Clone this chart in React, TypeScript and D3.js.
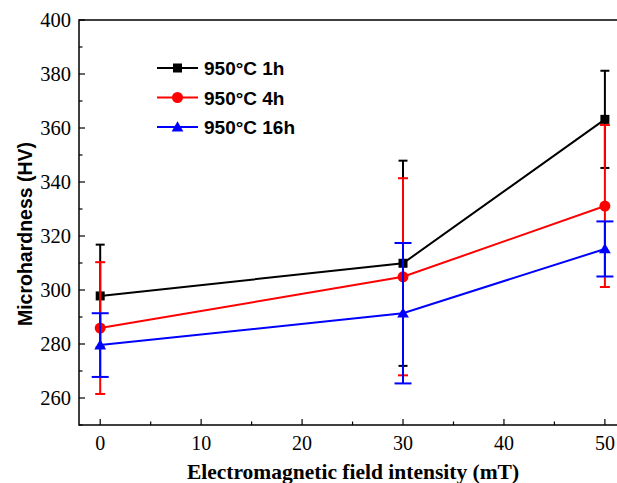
import React, { useEffect, useRef } from "react";
import * as d3 from "d3";

const fields = [0, 30, 50];
const seriesNames = ["950°C 1h", "950°C 4h", "950°C 16h"];
const colors = ["#000000", "#ff0000", "#0000ff"];
const hv1h = [297.8, 309.9, 363.2];
const err1h = [19, 38, 18];
const hv4h = [285.9, 304.9, 331.1];
const err4h = [24.4, 36.5, 30];
const hv16h = [279.6, 291.4, 315.2];
const err16h = [11.8, 26, 10.2];
const xTicks = [0, 10, 20, 30, 40, 50];
const yTicks = [260, 280, 300, 320, 340, 360, 380, 400];

function App() {
  const svgRef = useRef(null);
  const [width, height] = [617, 483];
  const margin = { top: 20, right: 1, bottom: 58, left: 79 };

  useEffect(() => {
    const svg = d3.select(svgRef.current);
    svg.selectAll("*").remove();

    const x = d3.scaleLinear().domain([-2.1, 51.1]).range([margin.left, width - margin.right]);
    const y = d3.scaleLinear().domain([250, 400]).range([height - margin.bottom, margin.top]);

    const serif = "Liberation Serif, Times New Roman, DejaVu Serif, serif";
    const sans = "Liberation Sans, Arial, sans-serif";

    // frame
    svg
      .append("rect")
      .attr("x", margin.left)
      .attr("y", margin.top)
      .attr("width", width - margin.right - margin.left + 5)
      .attr("height", height - margin.bottom - margin.top)
      .attr("fill", "none")
      .attr("stroke", "#000")
      .attr("stroke-width", 1.5);

    // x axis ticks (inward)
    const xMinor = d3.range(5, 51, 10);
    const gx = svg.append("g").attr("font-family", serif).attr("font-weight", "normal");
    xTicks.forEach((t) => {
      gx.append("line")
        .attr("x1", x(t)).attr("x2", x(t))
        .attr("y1", y(250)).attr("y2", y(250) - 6)
        .attr("stroke", "#000").attr("stroke-width", 1.2);
      gx.append("text")
        .attr("x", x(t)).attr("y", y(250) + 25)
        .attr("text-anchor", "middle")
        .style("font-family", serif).attr("font-size", 20)
        .text(String(t));
    });
    xMinor.forEach((t) => {
      gx.append("line")
        .attr("x1", x(t)).attr("x2", x(t))
        .attr("y1", y(250)).attr("y2", y(250) - 3.5)
        .attr("stroke", "#000").attr("stroke-width", 1.2);
    });

    // y axis ticks (inward)
    const yMinor = d3.range(250, 400, 20);
    const gy = svg.append("g").attr("font-family", serif).attr("font-weight", "normal");
    yTicks.forEach((t) => {
      gy.append("line")
        .attr("x1", margin.left).attr("x2", margin.left + 6)
        .attr("y1", y(t)).attr("y2", y(t))
        .attr("stroke", "#000").attr("stroke-width", 1.2);
      gy.append("text")
        .attr("x", margin.left - 8).attr("y", y(t) + 6.7)
        .attr("text-anchor", "end")
        .style("font-family", serif).attr("font-size", 20.5)
        .text(String(t));
    });
    yMinor.forEach((t) => {
      gy.append("line")
        .attr("x1", margin.left).attr("x2", margin.left + 3.5)
        .attr("y1", y(t)).attr("y2", y(t))
        .attr("stroke", "#000").attr("stroke-width", 1.2);
    });

    // axis titles
    svg.append("text")
      .attr("x", 353).attr("y", 479)
      .attr("text-anchor", "middle")
      .style("font-family", serif).attr("font-weight", "bold").attr("font-size", 21.5)
      .text("Electromagnetic field intensity (mT)");
    svg.append("text")
      .attr("transform", `translate(32,234) rotate(-90)`)
      .attr("text-anchor", "middle")
      .style("font-family", sans).attr("font-weight", "bold").attr("font-size", 19.5)
      .text("Microhardness (HV)");

    const series = [
      { vals: hv1h, errs: err1h, cap: 4.5, marker: "square" },
      { vals: hv4h, errs: err4h, cap: 5, marker: "circle" },
      { vals: hv16h, errs: err16h, cap: 8.5, marker: "triangle" },
    ];

    const line = d3.line<number>().x((d, i) => x(fields[i])).y((d) => y(d));

    const drawMarker = (g, kind, cx, cy, color) => {
      if (kind === "square") {
        g.append("rect").attr("x", cx - 4.5).attr("y", cy - 4.5).attr("width", 9).attr("height", 9).attr("fill", color);
      } else if (kind === "circle") {
        g.append("circle").attr("cx", cx).attr("cy", cy).attr("r", 5.5).attr("fill", color);
      } else {
        g.append("path")
          .attr("d", d3.symbol(d3.symbolTriangle, 60)())
          .attr("transform", `translate(${cx},${cy + 1})`)
          .attr("fill", color);
      }
    };

    // error bars, line and markers for each series in turn
    series.forEach((s, k) => {
      const g = svg.append("g");
      const c = colors[k];
      s.vals.forEach((v, i) => {
        const cx = x(fields[i]);
        const hi = y(v + s.errs[i]);
        const lo = y(v - s.errs[i]);
        g.append("line").attr("x1", cx).attr("x2", cx).attr("y1", hi).attr("y2", lo).attr("stroke", c).attr("stroke-width", 2);
        [hi, lo].forEach((yy) => {
          g.append("line").attr("x1", cx - s.cap).attr("x2", cx + s.cap).attr("y1", yy).attr("y2", yy).attr("stroke", c).attr("stroke-width", 2);
        });
      });
      g.append("path").attr("d", line(s.vals)).attr("fill", "none").attr("stroke", c).attr("stroke-width", 2);
      s.vals.forEach((v, i) => drawMarker(g, s.marker, x(fields[i]), y(v), c));
    });

    // legend
    const lg = svg.append("g");
    seriesNames.forEach((name, k) => {
      const ly = 68 + k * 29.5;
      lg.append("line").attr("x1", 157).attr("x2", 198).attr("y1", ly).attr("y2", ly).attr("stroke", colors[k]).attr("stroke-width", 2);
      drawMarker(lg, series[k].marker, 177.5, ly, colors[k]);
      lg.append("text")
        .attr("x", 204).attr("y", ly + 7)
        .style("font-family", sans).attr("font-weight", "bold").attr("font-size", 19)
        .text(name);
    });
  }, []);

  return (
    <div>
      <svg
        ref={svgRef}
        width={width}
        height={height}
        style={{ position: "absolute", left: 0, top: 0, background: "#fff" }}
      ></svg>
    </div>
  );
}

export default App;
